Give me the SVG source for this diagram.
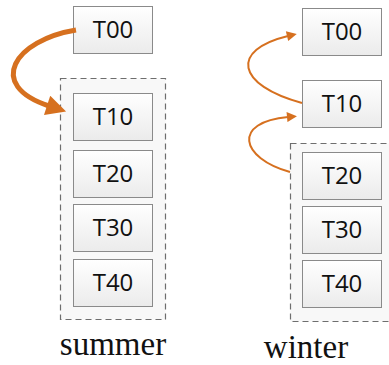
<svg xmlns="http://www.w3.org/2000/svg" width="389" height="365" viewBox="0 0 389 365">
<style>
.box{fill:url(#g);stroke:#8a8a8a;stroke-width:1}
.grp{fill:#f8f8f8;stroke:#6e6e6e;stroke-width:1.2;stroke-dasharray:6 4}
.lbl{font-family:"Open Sans","Liberation Sans",sans-serif;font-size:24px;fill:#111;text-anchor:middle}
.cap{font-family:"Liberation Serif","Times New Roman",serif;font-size:33px;fill:#111;text-anchor:middle}
.thick{fill:none;stroke:#D6701F;stroke-width:5;marker-end:url(#ah1)}
.thin{fill:none;stroke:#D6701F;stroke-width:2;marker-end:url(#ah2)}
</style>
<defs>
<linearGradient id="g" x1="0" y1="0" x2="0" y2="1">
<stop offset="0" stop-color="#ffffff"/>
<stop offset="1" stop-color="#ebebeb"/>
</linearGradient>
<marker id="ah1" viewBox="0 0 10 10" refX="1" refY="5" markerWidth="4.8" markerHeight="4" orient="auto" markerUnits="strokeWidth">
<path d="M0,0 L10,5 L0,10 z" fill="#D6701F"/>
</marker>
<marker id="ah2" viewBox="0 0 10 10" refX="1" refY="5" markerWidth="7" markerHeight="5" orient="auto" markerUnits="strokeWidth">
<path d="M0,0 L10,5 L0,10 z" fill="#D6701F"/>
</marker>
</defs>

<g id="summer-group"><rect class="grp" x="60.5" y="78.5" width="105" height="241"/></g>
<g id="winter-group"><rect class="grp" x="290.5" y="143.5" width="140" height="178"/></g>

<g id="s-T00"><rect class="box" x="73.5" y="6.5" width="79" height="47"/><text class="lbl" x="113" y="38">T00</text></g>
<g id="s-T10"><rect class="box" x="73.5" y="93.5" width="79" height="47"/><text class="lbl" x="113" y="125">T10</text></g>
<g id="s-T20"><rect class="box" x="73.5" y="150.5" width="79" height="47"/><text class="lbl" x="113" y="182">T20</text></g>
<g id="s-T30"><rect class="box" x="73.5" y="204.5" width="79" height="47"/><text class="lbl" x="113" y="236">T30</text></g>
<g id="s-T40"><rect class="box" x="73.5" y="259.5" width="79" height="47"/><text class="lbl" x="113" y="291">T40</text></g>

<g id="w-T00"><rect class="box" x="302.5" y="8.5" width="79" height="47"/><text class="lbl" x="342" y="40">T00</text></g>
<g id="w-T10"><rect class="box" x="302.5" y="80.5" width="79" height="47"/><text class="lbl" x="342" y="112">T10</text></g>
<g id="w-T20"><rect class="box" x="302.5" y="152.5" width="79" height="47"/><text class="lbl" x="342" y="184">T20</text></g>
<g id="w-T30"><rect class="box" x="302.5" y="206.5" width="79" height="47"/><text class="lbl" x="342" y="238">T30</text></g>
<g id="w-T40"><rect class="box" x="302.5" y="260.5" width="79" height="47"/><text class="lbl" x="342" y="292">T40</text></g>

<g id="connectors">
<path class="thick" d="M76 30 C15 40,-15 85,49 106"/>
<path class="thin" d="M302 103 C236 85,230 50,288 36"/>
<path class="thin" d="M290 172 C240 158,232 122,288 117"/>
</g>

<text class="cap" x="113" y="355">summer</text>
<text class="cap" x="306" y="358">winter</text>
</svg>
